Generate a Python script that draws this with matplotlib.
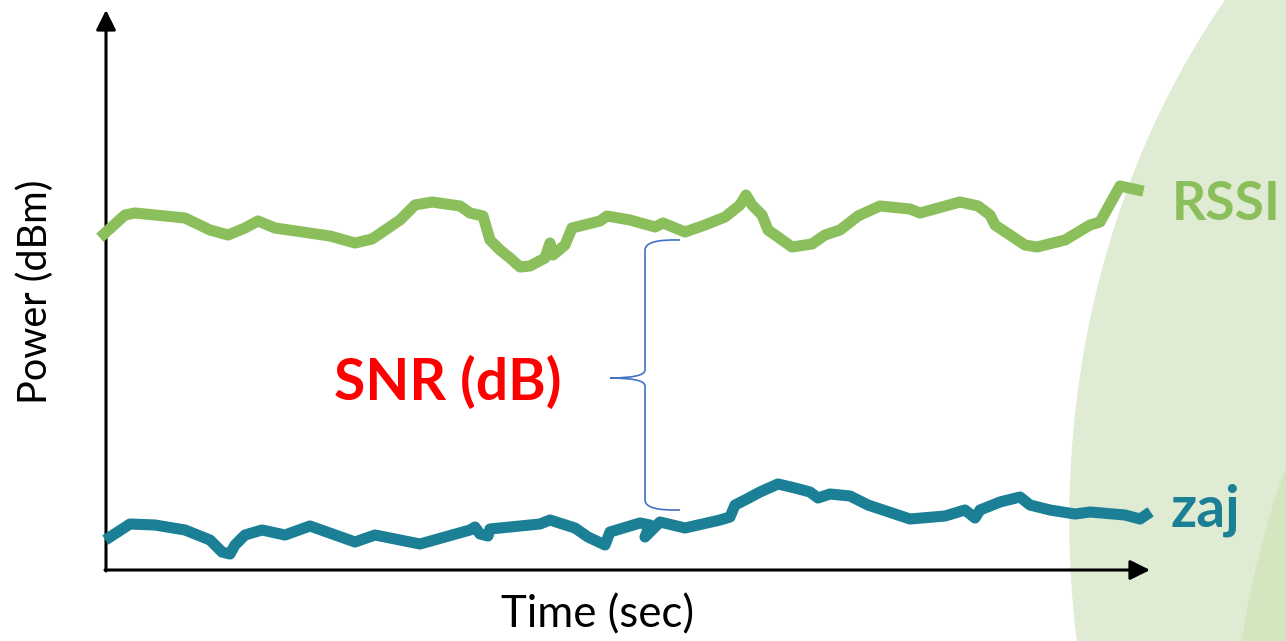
import numpy as np
import matplotlib.pyplot as plt
from matplotlib.patches import Ellipse, PathPatch
from matplotlib.path import Path

# schematic trace values (time, power in screen units)
rssi_t = [104, 125, 135, 185, 210, 228, 245, 258, 275, 330, 355, 372, 400, 415,
          432, 460, 470, 483, 490, 500, 510, 520, 530, 545, 550, 553, 565, 572,
          600, 607, 630, 655, 663, 685, 705, 725, 740, 746, 752, 762, 768, 792,
          812, 825, 840, 858, 880, 910, 920, 960, 978, 990, 995, 1025, 1037,
          1065, 1090, 1100, 1120, 1138]
rssi_p = [234, 215, 213, 218, 230, 235, 228, 221, 228, 236, 243, 239, 220, 205,
          202, 206, 213, 216, 240, 250, 258, 267, 266, 258, 243, 255, 245, 228,
          221, 216, 220, 227, 223, 232, 225, 217, 205, 195, 205, 215, 230, 247,
          244, 235, 230, 216, 206, 209, 213, 202, 206, 215, 225, 245, 247,
          240, 225, 222, 186, 190]

noise_t = [110, 130, 155, 185, 210, 222, 230, 235, 245, 262, 285, 310, 355, 375,
           400, 420, 445, 470, 475, 480, 488, 490, 540, 550, 575, 588, 605, 610,
           640, 650, 645, 660, 685, 720, 730, 735, 745, 760, 778, 795, 810, 818,
           830, 850, 868, 910, 945, 965, 975, 980, 1000, 1020, 1030, 1050, 1075,
           1090, 1125, 1140, 1146]
noise_p = [537, 524, 525, 530, 540, 552, 554, 545, 535, 530, 535, 526, 542, 535,
           540, 544, 537, 530, 527, 534, 536, 529, 524, 520, 528, 537, 545, 532,
           523, 525, 537, 522, 528, 520, 517, 505, 500, 492, 484, 488, 492, 498,
           494, 496, 505, 519, 516, 510, 518, 510, 502, 497, 505, 510, 514,
           512, 515, 519, 515]

green = '#8bbf5c'
teal = '#1b8096'
font = 'Lato'

fig = plt.figure(figsize=(12.86, 6.41), dpi=100)
ax = fig.add_axes([0, 0, 1, 1])
ax.set_xlim(0, 1286)
ax.set_ylim(641, 0)
ax.axis('off')

# background shapes
ax.add_patch(Ellipse((1710, 520), 1280, 1590, color='#e0ebd3', zorder=0))
ax.add_patch(Ellipse((1700, 800), 940, 1400, color='#d4e6c0', zorder=0))

# axes with arrows
ax.annotate('', xy=(106, 10), xytext=(106, 571),
            arrowprops=dict(arrowstyle='-|>', color='black', lw=2.2,
                            mutation_scale=30, shrinkA=0, shrinkB=0))
ax.annotate('', xy=(1150, 570), xytext=(105, 570),
            arrowprops=dict(arrowstyle='-|>', color='black', lw=2.2,
                            mutation_scale=30, shrinkA=0, shrinkB=0))

ax.plot(rssi_t, rssi_p, color=green, lw=8, solid_joinstyle='round', zorder=3)
ax.plot(noise_t, noise_p, color=teal, lw=8, solid_joinstyle='round', zorder=3)

# curly brace between the two traces
bx, top, bot, mid = 645, 240, 510, 378
verts = [(680, top), (645, top - 1), (bx, top + 10),
         (bx, mid - 8), (bx, mid), (610, mid),
         (bx, mid), (bx, mid + 8),
         (bx, bot - 10), (645, bot + 1), (680, bot)]
codes = [Path.MOVETO, Path.CURVE3, Path.CURVE3,
         Path.LINETO, Path.CURVE3, Path.CURVE3,
         Path.CURVE3, Path.CURVE3,
         Path.LINETO, Path.CURVE3, Path.CURVE3]
ax.add_patch(PathPatch(Path(verts, codes), fill=False, edgecolor='#4472c4', lw=1.2))

ax.text(448, 383, 'SNR (dB)', color='#ff0000', fontsize=41, fontweight='bold',
        family=font, ha='center', va='center')
ax.text(1172, 204, 'RSSI', color=green, fontsize=38.5, fontweight='bold',
        family=font, ha='left', va='center')
ax.text(1171, 510, 'zaj', color=teal, fontsize=41, fontweight='bold',
        family=font, ha='left', va='center')
ax.text(598, 615, 'Time (sec)', fontsize=31.5, family=font, ha='center', va='center')
ax.text(35, 292, 'Power (dBm)', fontsize=28.5, family=font, rotation=90,
        ha='center', va='center')

fig.savefig('out.png', dpi=100)
